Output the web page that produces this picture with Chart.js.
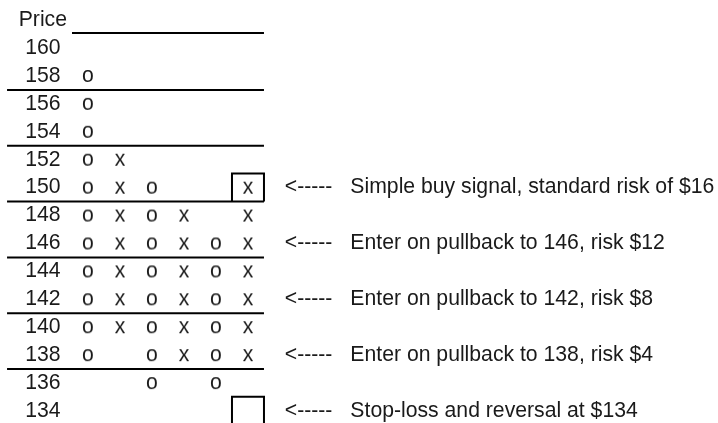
<!DOCTYPE html>
<html>
<head>
<meta charset="utf-8">
<script src="https://cdn.jsdelivr.net/npm/chart.js@4"></script>
<style>
  html, body { margin: 0; padding: 0; background: #fff; }
  #wrap { width: 718px; height: 423px; position: relative; }
</style>
</head>
<body>
<div id="wrap"><canvas id="pf"></canvas></div>
<script>
// ── Data ──────────────────────────────────────────────────────────────────────
const priceLevels = [160, 158, 156, 154, 152, 150, 148, 146, 144, 142, 140, 138, 136, 134];
const headerLevel = 162;
const headerLabel = "Price";

// box columns, left to right
const col1O = [158, 156, 154, 152, 150, 148, 146, 144, 142, 140, 138];
const col2X = [152, 150, 148, 146, 144, 142, 140];
const col3O = [150, 148, 146, 144, 142, 140, 138, 136];
const col4X = [148, 146, 144, 142, 140, 138];
const col5O = [146, 144, 142, 140, 138, 136];
const col6X = [150, 148, 146, 144, 142, 140, 138];

const ruleLevels   = [157, 153, 149, 145, 141, 137];
const topRuleLevel = 161.07;
const boxLevels    = [150, 134];

const noteLevels = [150, 146, 142, 138, 134];
const noteTexts  = [
    "Simple buy signal, standard risk of $16",
    "Enter on pullback to 146, risk $12",
    "Enter on pullback to 142, risk $8",
    "Enter on pullback to 138, risk $4",
    "Stop-loss and reversal at $134",
];

// ── Look ──────────────────────────────────────────────────────────────────────
const FONT   = '"Liberation Sans", Arial, Helvetica, sans-serif';
const FSIZE  = 21.2;
const INK    = "#1a1a1a";
const noteArrowX = 7.15;
const noteTextX  = 9.2;

// letter glyph used as a point style
function glyph(ch) {
    const c = document.createElement("canvas");
    c.width = 24; c.height = 30;
    const g = c.getContext("2d");
    g.font = FSIZE + "px " + FONT;
    g.fillStyle = INK;
    g.textAlign = "center";
    g.textBaseline = "middle";
    g.fillText(ch, 12, 15);
    return c;
}
const glyphX = glyph("x");
const glyphO = glyph("o");

function markSet(col, values, g) {
    return {
        data: values.map(v => ({ x: col, y: v })),
        pointStyle: g,
        pointRadius: 5,
        showLine: false,
    };
}

function lineSet(points, clip) {
    return {
        data: points,
        showLine: true,
        borderColor: "#000",
        borderWidth: 2,
        pointRadius: 0,
        tension: 0,
        clip: clip,
    };
}

const datasets = [
    markSet(1, col1O, glyphO),
    markSet(2, col2X, glyphX),
    markSet(3, col3O, glyphO),
    markSet(4, col4X, glyphX),
    markSet(5, col5O, glyphO),
    markSet(6, col6X, glyphX),
    lineSet([{ x: 0.5, y: topRuleLevel }, { x: 6.5, y: topRuleLevel }], false),
];
ruleLevels.forEach(l => datasets.push(lineSet([{ x: -1.53, y: l }, { x: 6.5, y: l }], false)));
boxLevels.forEach(l => datasets.push(lineSet([
    { x: 5.5, y: l - 1 }, { x: 5.5, y: l + 1.02 }, { x: 6.5, y: l + 1.02 }, { x: 6.5, y: l - 1 },
], 0)));

// ── Notes on the right ────────────────────────────────────────────────────────
const notesPlugin = {
    id: "notes",
    afterDatasetsDraw(chart) {
        const { ctx, scales: { x, y } } = chart;
        ctx.save();
        ctx.font = FSIZE + "px " + FONT;
        ctx.fillStyle = INK;
        ctx.textAlign = "left";
        ctx.textBaseline = "middle";
        noteLevels.forEach((lvl, i) => {
            const py = y.getPixelForValue(lvl);
            ctx.fillText("<-----", x.getPixelForValue(noteArrowX), py);
            ctx.fillText(noteTexts[i], x.getPixelForValue(noteTextX), py);
        });
        ctx.restore();
    },
};

// ── Chart ─────────────────────────────────────────────────────────────────────
new Chart(document.getElementById("pf"), {
    type: "scatter",
    data: { datasets },
    options: {
        responsive: true,
        maintainAspectRatio: false,
        animation: false,
        events: [],
        layout: { padding: 0, autoPadding: false },
        plugins: { legend: { display: false }, tooltip: { enabled: false } },
        scales: {
            x: {
                type: "linear",
                min: 0.5,
                max: 20.69,
                display: false,
            },
            y: {
                type: "linear",
                min: 133.14,
                max: 163.44,
                grid: { display: false, drawTicks: false },
                border: { display: false },
                afterBuildTicks: s => {
                    s.ticks = [headerLevel, ...priceLevels].map(v => ({ value: v }));
                },
                afterFit: s => {
                    s.width = 72;
                    s.paddingTop = 0;
                    s.paddingBottom = 0;
                },
                ticks: {
                    autoSkip: false,
                    padding: 5,
                    crossAlign: "center",
                    color: INK,
                    font: { family: FONT, size: FSIZE },
                    callback: v => (v === headerLevel ? headerLabel : v),
                },
            },
        },
    },
    plugins: [notesPlugin],
});
</script>
</body>
</html>
